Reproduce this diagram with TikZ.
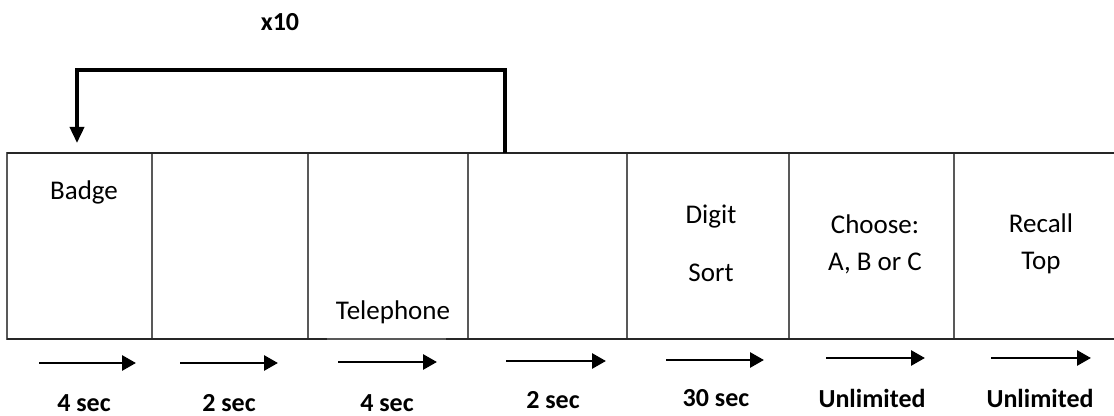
\documentclass[tikz,border=0pt]{standalone}
\usepackage{fontspec}
\setmainfont{Carlito}
\usetikzlibrary{arrows.meta,positioning}

\begin{document}
\begin{tikzpicture}[x=0.5pt,y=-0.5pt,
  stage/.style={rectangle, draw=black!65, line width=0.9pt, anchor=north west, inner sep=0pt, outer sep=0pt, minimum height=93pt},
  caption/.style={font=\fontsize{13.5}{16}\selectfont, align=center, inner sep=0pt},
  timing/.style={font=\fontsize{13}{15}\selectfont\bfseries, inner sep=0pt},
  rail/.style={line width=1.3pt, draw=black!85},
  timearrow/.style={-{Triangle[length=7pt,width=7.5pt]}, line width=1.4pt},
  repeatarrow/.style={-{Triangle[length=8pt,width=7pt]}, line width=1.8pt}
]
  \useasboundingbox (0,0) rectangle (1114,416);

  % Stages of one trial
  \foreach \x/\w [count=\i] in {7/145,152/156,308/160,468/159,627/162,789/165,954/170}
    \node[stage, minimum width=\w*0.5pt] (b\i) at (\x,153) {};

  % Top and bottom rails
  \coordinate (gapL) at (327,339);
  \coordinate (gapR) at (446,339);
  \draw[rail] (b1.north west) -- (b7.north east);
  \draw[rail] (b1.south west) -- (gapL) (gapR) -- (b7.south east);

  % Stage texts
  \node[caption] (badge) at (84,192) {Badge};
  \node[caption] (phone) at (393,312) {Telephone};
  \node[caption] (digit) at (711,243) {Digit\\[13pt]Sort};
  \node[caption] (choose) at (875,244) {Choose:\\[2.5pt]A, B or C};
  \node[caption] (recall) at (1041,244) {Recall\\[2.5pt]Top};

  % Durations
  \foreach \x/\y/\l [count=\i] in {84/403/4 sec, 229/403/2 sec, 387/403/4 sec, 553/400/2 sec, 716/398/30 sec, 872/398/Unlimited, 1040/398/Unlimited}
    \node[timing] (t\i) at (\x,\y) {\l};

  % Time arrows
  \foreach \s/\e/\y [count=\i] in {39/136/363, 180/278/363, 338/437/362, 506/606/361, 666/764/360, 826/925/358, 991/1091/358} {
    \coordinate (a\i) at (\s,\y);
    \coordinate (h\i) at (\e,\y);
    \draw[timearrow] (a\i) -- (h\i);
  }

  % Repetition loop
  \node[timing] (reps) at (280,22) {x10};
  \coordinate (loopfrom) at (505,153);
  \coordinate (loopto) at (77,143);
  \draw[repeatarrow] (loopfrom) -- ++(0,-83) -| (loopto);
\end{tikzpicture}
\end{document}
